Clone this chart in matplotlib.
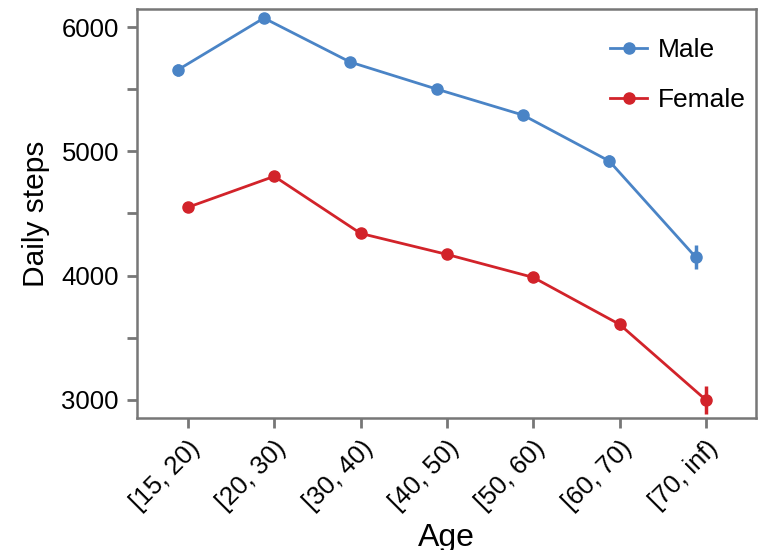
import numpy as np
import matplotlib
matplotlib.use("Agg")
import matplotlib.pyplot as plt
from matplotlib.lines import Line2D
from matplotlib.ticker import MultipleLocator

plt.rcParams['font.family'] = ['Liberation Sans', 'DejaVu Sans']

# Data
age_groups = ["[15, 20)", "[20, 30)", "[30, 40)", "[40, 50)", "[50, 60)", "[60, 70)", "[70, inf)"]
male_steps = [5654, 6072, 5718, 5501, 5292, 4922, 4150]
male_err = [45, 25, 25, 20, 20, 45, 100]
female_steps = [4550, 4799, 4340, 4171, 3986, 3608, 3000]
female_err = [25, 25, 20, 20, 20, 45, 110]

blue = "#4a84c6"
red = "#d2232a"
grey = "#777777"

fig = plt.figure(figsize=(7.66, 5.5), dpi=100)
ax = fig.add_axes([137/766, 1 - 418/550, (756-137)/766, (418-9)/550])

x = np.arange(len(age_groups))
ax.errorbar(x - 0.12, male_steps, yerr=male_err, color=blue, marker='o', ms=8,
            lw=2, elinewidth=2.5, capsize=0)
ax.errorbar(x, female_steps, yerr=female_err, color=red, marker='o', ms=8,
            lw=2, elinewidth=2.5, capsize=0)

ax.set_xlim(-0.59, 6.58)
ax.set_ylim(2855, 6145)
ax.set_xticks(x)
ax.set_xticklabels(age_groups, rotation=45, ha='right', rotation_mode='anchor')
ax.yaxis.set_major_locator(MultipleLocator(1000))
ax.yaxis.set_minor_locator(MultipleLocator(500))

for s in ax.spines.values():
    s.set_color(grey)
    s.set_linewidth(1.8)
ax.tick_params(which='both', direction='out', length=7, width=2, color=grey,
               labelsize=18.5, pad=6)

ax.set_xlabel("Age", fontsize=23, labelpad=6)
ax.set_ylabel("Daily steps", fontsize=21.5, labelpad=8)

handles = [Line2D([], [], color=blue, marker='o', ms=8, lw=2),
           Line2D([], [], color=red, marker='o', ms=8, lw=2)]
ax.legend(handles, ["Male", "Female"], loc='upper right', frameon=False,
          fontsize=19, handlelength=1.4, handletextpad=0.4, labelspacing=1.0,
          bbox_to_anchor=(1.0, 0.955), borderaxespad=0)

fig.savefig("out.png", dpi=100)
